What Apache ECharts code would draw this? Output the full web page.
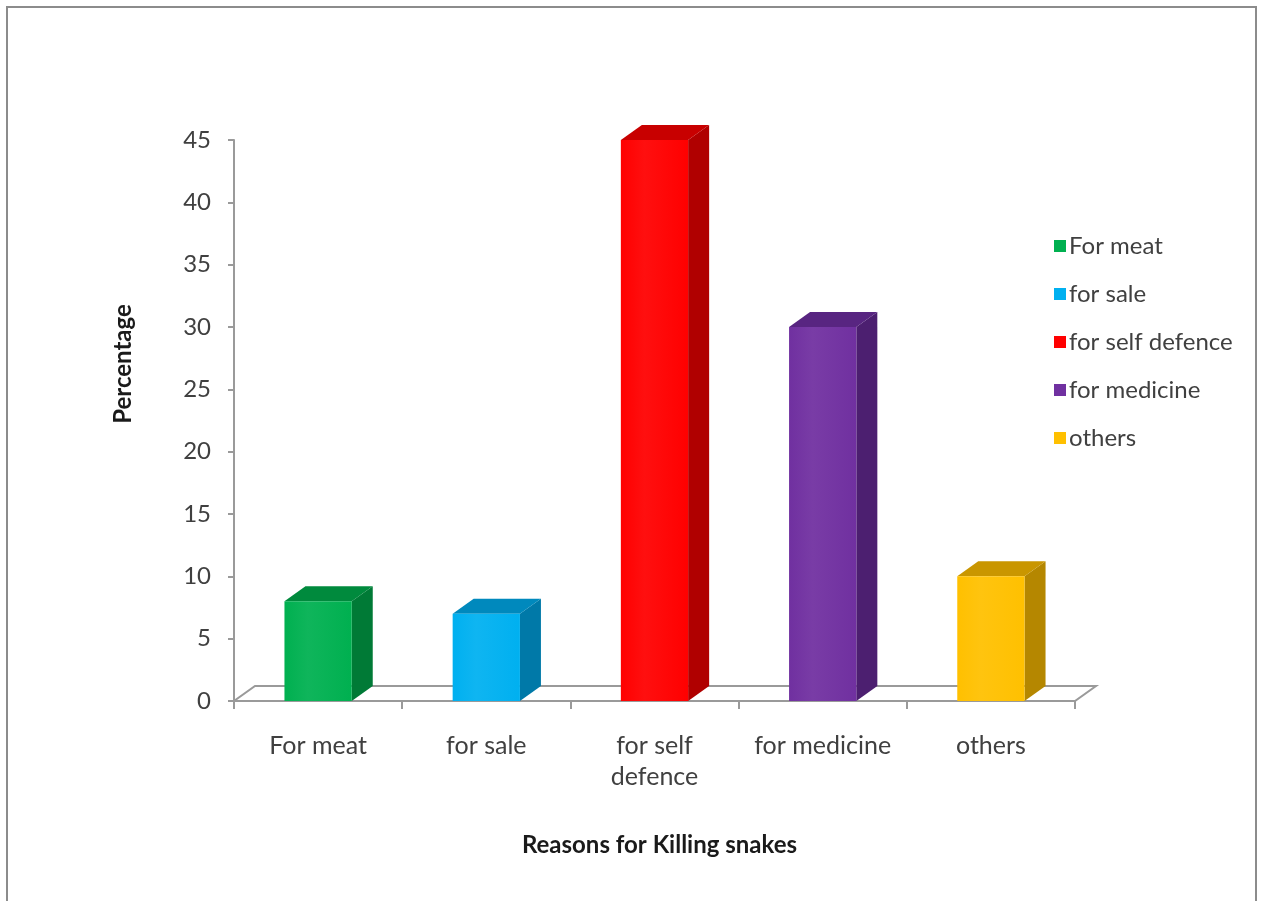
<!DOCTYPE html>
<html>
<head>
<meta charset="utf-8">
<script src="https://cdn.jsdelivr.net/npm/echarts@6/dist/echarts.min.js"></script>
<style>
  html, body { margin: 0; padding: 0; background: #ffffff; }
  #chart { width: 1262px; height: 901px; }
</style>
</head>
<body>
<div id="chart"></div>
<script>
// Reasons for killing snakes (percentage of respondents)
const categories = ['For meat', 'for sale', 'for self\ndefence', 'for medicine', 'others'];
const seriesNames = ['For meat', 'for sale', 'for self defence', 'for medicine', 'others'];
const values = [8, 7, 45, 30, 10];

// value axis range
const yMin = 0;
const yMax = 45;
const yStep = 5;

// face colours of each column: front, right side, top
const frontColors = ['#00B050', '#00B0F0', '#FF0000', '#7030A0', '#FFC000'];
const sideColors  = ['#007A36', '#0079A8', '#B00000', '#4C1F70', '#B58700'];
const topColors   = ['#008A3D', '#0089BD', '#C80000', '#582581', '#C99600'];

// oblique depth offset used for the 3D look
const DX = 21;
const DY = -15;
const FONT = 'Lato, "Open Sans", sans-serif';
const TEXT = '#404040';

function lighten(hex, amt) {
  const n = parseInt(hex.slice(1), 16);
  const r = Math.min(255, Math.round(((n >> 16) & 255) + (255 - ((n >> 16) & 255)) * amt));
  const g = Math.min(255, Math.round(((n >> 8) & 255) + (255 - ((n >> 8) & 255)) * amt));
  const b = Math.min(255, Math.round((n & 255) + (255 - (n & 255)) * amt));
  return 'rgb(' + r + ',' + g + ',' + b + ')';
}

function makeColumnRenderer(k) {
  return function (params, api) {
    const idx = api.value(0);
    const v = api.value(1);
    const top = api.coord([idx, v]);
    const base = api.coord([idx, 0]);
    const band = api.size([1, 0])[0];
    const w = band * 0.4;
    const x0 = top[0] - w / 2;
    const x1 = top[0] + w / 2;
    const yT = top[1];
    const yB = base[1];
    return {
      type: 'group',
      children: [
        {
          type: 'polygon',
          shape: { points: [[x1, yB], [x1 + DX, yB + DY], [x1 + DX, yT + DY], [x1, yT]] },
          style: { fill: sideColors[k] }
        },
        {
          type: 'polygon',
          shape: { points: [[x0, yT], [x0 + DX, yT + DY], [x1 + DX, yT + DY], [x1, yT]] },
          style: { fill: topColors[k] }
        },
        {
          type: 'rect',
          shape: { x: x0, y: yT, width: w, height: yB - yT },
          style: {
            fill: {
              type: 'linear', x: 0, y: 0, x2: 1, y2: 0,
              colorStops: [
                { offset: 0, color: frontColors[k] },
                { offset: 0.35, color: lighten(frontColors[k], 0.06) },
                { offset: 1, color: frontColors[k] }
              ]
            }
          }
        }
      ]
    };
  };
}

// floor plane of the plot area
function renderFloor(params, api) {
  const cs = params.coordSys;
  const yB = cs.y + cs.height;
  const xL = cs.x;
  const xR = cs.x + cs.width;
  return {
    type: 'polygon',
    shape: { points: [[xL, yB], [xR, yB], [xR + DX, yB + DY], [xL + DX, yB + DY]] },
    style: { fill: '#ffffff', stroke: '#9a9a9a', lineWidth: 2 },
    silent: true
  };
}

const series = [{
  type: 'custom',
  name: '__floor',
  renderItem: renderFloor,
  data: [[0, 0]],
  z: 1,
  silent: true
}];

seriesNames.forEach(function (name, k) {
  series.push({
    type: 'custom',
    name: name,
    itemStyle: { color: frontColors[k] },
    renderItem: makeColumnRenderer(k),
    encode: { x: 0, y: 1 },
    data: [[k, values[k]]],
    z: 3
  });
});

const chart = echarts.init(document.getElementById('chart'), null, { renderer: 'canvas' });
chart.setOption({
  backgroundColor: '#ffffff',
  animation: false,
  textStyle: { fontFamily: FONT },
  graphic: [
    {
      type: 'rect',
      shape: { x: 7, y: 7, width: 1249, height: 1000 },
      style: { fill: 'none', stroke: '#8c8c8c', lineWidth: 2 },
      silent: true
    },
    {
      // value axis title
      type: 'text',
      x: 123,
      y: 364,
      rotation: Math.PI / 2,
      style: {
        text: 'Percentage',
        fontFamily: FONT,
        fontSize: 24,
        fontWeight: 'bold',
        fill: '#1a1a1a',
        align: 'center',
        verticalAlign: 'middle'
      },
      silent: true
    }
  ],
  grid: { left: 234, top: 140, width: 841, height: 561 },
  legend: {
    orient: 'vertical',
    left: 1049,
    top: 229,
    itemWidth: 12,
    itemHeight: 12,
    itemGap: 24,
    icon: 'rect',
    data: seriesNames,
    textStyle: { fontFamily: FONT, fontSize: 24, color: TEXT, padding: [0, 0, 0, -2] }
  },
  xAxis: {
    type: 'category',
    data: categories,
    boundaryGap: true,
    name: 'Reasons for Killing snakes',
    nameLocation: 'middle',
    nameGap: 132,
    nameTextStyle: { fontFamily: FONT, fontSize: 24, fontWeight: 'bold', color: '#1a1a1a', padding: [0, 0, 0, 10] },
    axisLine: { show: true, lineStyle: { color: '#9a9a9a', width: 2 } },
    axisTick: { show: true, alignWithLabel: false, length: 8, lineStyle: { color: '#9a9a9a', width: 2 } },
    axisLabel: { fontFamily: FONT, fontSize: 25, color: TEXT, margin: 29, lineHeight: 31, interval: 0 },
    splitLine: { show: false }
  },
  yAxis: {
    type: 'value',
    min: yMin,
    max: yMax,
    interval: yStep,
    axisLine: { show: true, lineStyle: { color: '#9a9a9a', width: 2 } },
    axisTick: { show: true, length: 6, lineStyle: { color: '#9a9a9a', width: 2 } },
    axisLabel: { fontFamily: FONT, fontSize: 24, color: TEXT, margin: 23 },
    splitLine: { show: false }
  },
  series: series
});
</script>
</body>
</html>
